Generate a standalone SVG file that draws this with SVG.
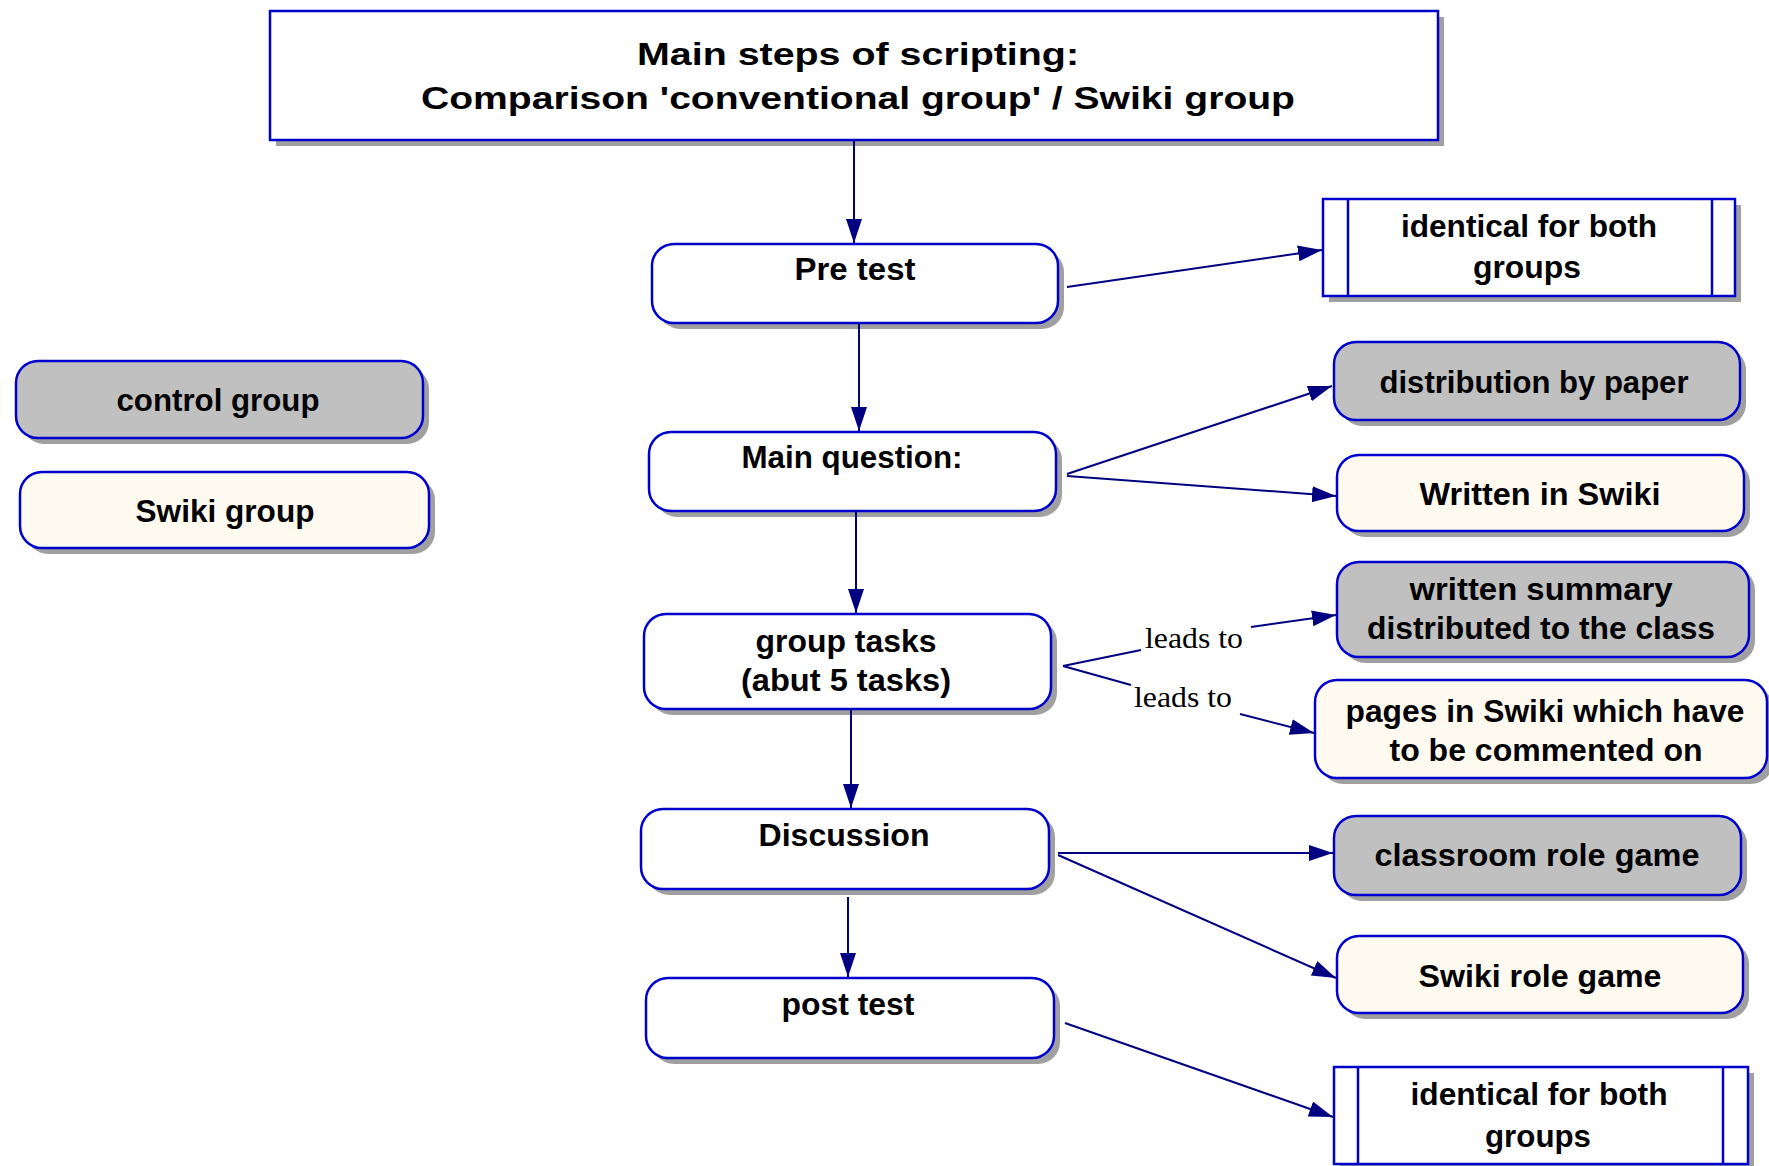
<svg xmlns="http://www.w3.org/2000/svg" width="1769" height="1166" viewBox="0 0 1769 1166">
<defs>
<style>
.bx{stroke:#0000cc;stroke-width:2.5}
.w{fill:#ffffff}
.g{fill:#c0c0c0}
.c{fill:#fffaf0}
.sh{fill:#a0a0a0}
.t{font-family:"Liberation Sans",Arial,sans-serif;font-weight:bold;font-size:31px;fill:#000;text-anchor:middle}
.l{font-family:"Liberation Serif","Times New Roman",serif;font-size:30px;fill:#000;text-anchor:middle}
.cn{stroke:#000080;stroke-width:2;fill:none}
</style>
<marker id="ah" markerUnits="userSpaceOnUse" markerWidth="26" markerHeight="18" refX="24" refY="8" orient="auto">
<path d="M0,0 L24,8 L0,16 Z" fill="#000080"/>
</marker>
</defs>
<rect width="1769" height="1166" fill="#ffffff"/>

<g id="title">
<rect class="sh" x="276" y="17" width="1168" height="129"/>
<rect class="bx w" x="270" y="11" width="1168" height="129" stroke-width="3"/>
<text class="t" x="858" y="65" textLength="442" lengthAdjust="spacingAndGlyphs">Main steps of scripting:</text>
<text class="t" x="858" y="109" textLength="874" lengthAdjust="spacingAndGlyphs">Comparison 'conventional group' / Swiki group</text>
</g>

<g id="pretest">
<rect class="sh" x="658" y="250" width="406" height="79" rx="22"/>
<rect class="bx w" x="652" y="244" width="406" height="79" rx="22"/>
<text class="t" x="855" y="280" textLength="121" lengthAdjust="spacingAndGlyphs">Pre test</text>
</g>

<g id="identical1">
<rect class="sh" x="1329" y="205" width="412" height="97"/>
<rect class="bx w" x="1323" y="199" width="412" height="97" stroke-width="2"/>
<line class="bx" x1="1348" y1="199" x2="1348" y2="296" stroke-width="2"/>
<line class="bx" x1="1712" y1="199" x2="1712" y2="296" stroke-width="2"/>
<text class="t" x="1529" y="237" textLength="256" lengthAdjust="spacingAndGlyphs">identical for both</text>
<text class="t" x="1527" y="278" textLength="108" lengthAdjust="spacingAndGlyphs">groups</text>
</g>

<g id="control">
<rect class="sh" x="22" y="367" width="407" height="77" rx="22"/>
<rect class="bx g" x="16" y="361" width="407" height="77" rx="22"/>
<text class="t" x="218" y="411" textLength="203" lengthAdjust="spacingAndGlyphs">control group</text>
</g>

<g id="swikigroup">
<rect class="sh" x="26" y="478" width="409" height="76" rx="22"/>
<rect class="bx c" x="20" y="472" width="409" height="76" rx="22"/>
<text class="t" x="225" y="522" textLength="179" lengthAdjust="spacingAndGlyphs">Swiki group</text>
</g>

<g id="mainq">
<rect class="sh" x="655" y="438" width="407" height="79" rx="22"/>
<rect class="bx w" x="649" y="432" width="407" height="79" rx="22"/>
<text class="t" x="852" y="468" textLength="221" lengthAdjust="spacingAndGlyphs">Main question:</text>
</g>

<g id="distpaper">
<rect class="sh" x="1340" y="348" width="406" height="78" rx="22"/>
<rect class="bx g" x="1334" y="342" width="406" height="78" rx="22"/>
<text class="t" x="1534" y="393" textLength="309" lengthAdjust="spacingAndGlyphs">distribution by paper</text>
</g>

<g id="writtenswiki">
<rect class="sh" x="1343" y="461" width="407" height="76" rx="22"/>
<rect class="bx c" x="1337" y="455" width="407" height="76" rx="22"/>
<text class="t" x="1540" y="505" textLength="241" lengthAdjust="spacingAndGlyphs">Written in Swiki</text>
</g>

<g id="grouptasks">
<rect class="sh" x="650" y="620" width="407" height="95" rx="22"/>
<rect class="bx w" x="644" y="614" width="407" height="95" rx="22"/>
<text class="t" x="846" y="652" textLength="181" lengthAdjust="spacingAndGlyphs">group tasks</text>
<text class="t" x="846" y="691" textLength="210" lengthAdjust="spacingAndGlyphs">(abut 5 tasks)</text>
</g>

<g id="summary">
<rect class="sh" x="1343" y="568" width="412" height="95" rx="22"/>
<rect class="bx g" x="1337" y="562" width="412" height="95" rx="22"/>
<text class="t" x="1541" y="600" textLength="263" lengthAdjust="spacingAndGlyphs">written summary</text>
<text class="t" x="1541" y="639" textLength="348" lengthAdjust="spacingAndGlyphs">distributed to the class</text>
</g>

<g id="pages">
<rect class="sh" x="1321" y="686" width="452" height="98" rx="22"/>
<rect class="bx c" x="1315" y="680" width="452" height="98" rx="22"/>
<text class="t" x="1545" y="722" textLength="399" lengthAdjust="spacingAndGlyphs">pages in Swiki which have</text>
<text class="t" x="1546" y="761" textLength="313" lengthAdjust="spacingAndGlyphs">to be commented on</text>
</g>

<g id="discussion">
<rect class="sh" x="647" y="815" width="408" height="80" rx="22"/>
<rect class="bx w" x="641" y="809" width="408" height="80" rx="22"/>
<text class="t" x="844" y="846" textLength="171" lengthAdjust="spacingAndGlyphs">Discussion</text>
</g>

<g id="classroom">
<rect class="sh" x="1340" y="822" width="407" height="79" rx="22"/>
<rect class="bx g" x="1334" y="816" width="407" height="79" rx="22"/>
<text class="t" x="1537" y="866" textLength="325" lengthAdjust="spacingAndGlyphs">classroom role game</text>
</g>

<g id="swikirole">
<rect class="sh" x="1343" y="942" width="406" height="77" rx="22"/>
<rect class="bx c" x="1337" y="936" width="406" height="77" rx="22"/>
<text class="t" x="1540" y="987" textLength="243" lengthAdjust="spacingAndGlyphs">Swiki role game</text>
</g>

<g id="posttest">
<rect class="sh" x="652" y="984" width="408" height="80" rx="22"/>
<rect class="bx w" x="646" y="978" width="408" height="80" rx="22"/>
<text class="t" x="848" y="1015" textLength="133" lengthAdjust="spacingAndGlyphs">post test</text>
</g>

<g id="identical2">
<rect class="sh" x="1340" y="1073" width="414" height="97"/>
<rect class="bx w" x="1334" y="1067" width="414" height="97" stroke-width="2.5"/>
<line class="bx" x1="1358" y1="1067" x2="1358" y2="1164"/>
<line class="bx" x1="1723" y1="1067" x2="1723" y2="1164"/>
<text class="t" x="1539" y="1105" textLength="257" lengthAdjust="spacingAndGlyphs">identical for both</text>
<text class="t" x="1538" y="1147" textLength="106" lengthAdjust="spacingAndGlyphs">groups</text>
</g>

<g id="connectors">
<line class="cn" x1="854" y1="140" x2="854" y2="243" stroke-width="2.5" marker-end="url(#ah)"/>
<line class="cn" x1="1067" y1="287" x2="1322" y2="250" marker-end="url(#ah)"/>
<line class="cn" x1="859" y1="323" x2="859" y2="431" stroke-width="2.5" marker-end="url(#ah)"/>
<line class="cn" x1="1067" y1="474" x2="1332" y2="386" marker-end="url(#ah)"/>
<line class="cn" x1="1067" y1="476" x2="1336" y2="496" marker-end="url(#ah)"/>
<line class="cn" x1="856" y1="511" x2="856" y2="613" stroke-width="2" marker-end="url(#ah)"/>
<polyline class="cn" points="1063,666 1141,650"/>
<line class="cn" x1="1251" y1="627" x2="1336" y2="615" marker-end="url(#ah)"/>
<text class="l" x="1194" y="648" textLength="98" lengthAdjust="spacingAndGlyphs">leads to</text>
<polyline class="cn" points="1063,666 1131,685"/>
<line class="cn" x1="1240" y1="714" x2="1314" y2="733" marker-end="url(#ah)"/>
<text class="l" x="1183" y="707" textLength="98" lengthAdjust="spacingAndGlyphs">leads to</text>
<line class="cn" x1="851" y1="709" x2="851" y2="808" stroke-width="2.5" marker-end="url(#ah)"/>
<line class="cn" x1="1058" y1="853" x2="1333" y2="853" stroke-width="2.5" marker-end="url(#ah)"/>
<line class="cn" x1="1058" y1="855" x2="1336" y2="978" marker-end="url(#ah)"/>
<line class="cn" x1="848" y1="897" x2="848" y2="977" stroke-width="2" marker-end="url(#ah)"/>
<line class="cn" x1="1065" y1="1023" x2="1333" y2="1117" marker-end="url(#ah)"/>
</g>
</svg>
